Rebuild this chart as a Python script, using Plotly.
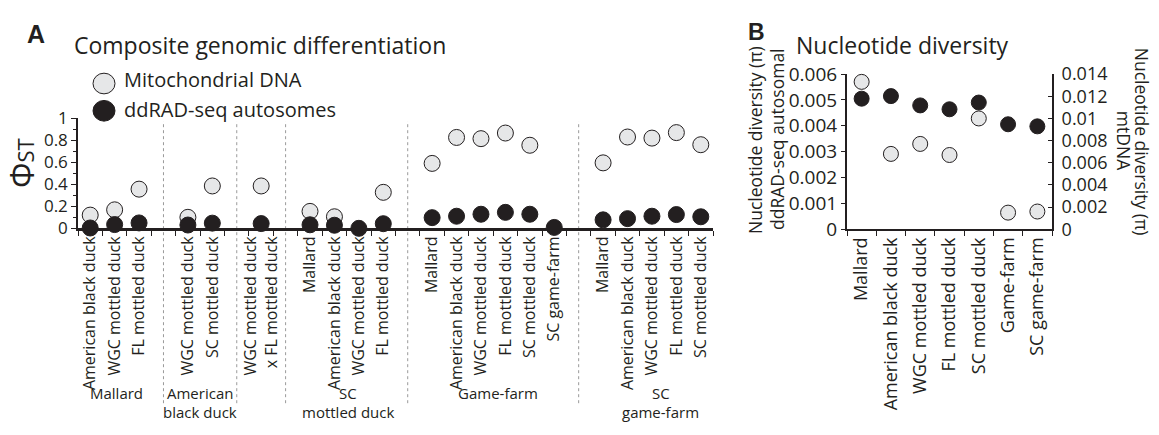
import plotly.graph_objects as go

# ---------------- data ----------------
# Panel A: pairwise PhiST comparisons, grouped by reference population
group_names = ["Mallard", "American<br>black duck", "", "SC<br>mottled duck", "Game-farm", "SC<br>game-farm"]
comparisons = [
    "American black duck", "WGC mottled duck", "FL mottled duck",
    "WGC mottled duck", "SC mottled duck",
    "WGC mottled duck<br>x FL mottled duck",
    "Mallard", "American black duck", "WGC mottled duck", "FL mottled duck",
    "Mallard", "American black duck", "WGC mottled duck", "FL mottled duck", "SC mottled duck", "SC game-farm",
    "Mallard", "American black duck", "WGC mottled duck", "FL mottled duck", "SC mottled duck",
]
comparison_group = [0, 0, 0, 1, 1, 2, 3, 3, 3, 3, 4, 4, 4, 4, 4, 4, 5, 5, 5, 5, 5]
mtdna_phist = [0.12, 0.168, 0.356, 0.10, 0.385, 0.385, 0.154, 0.105, None, 0.327,
               0.59, 0.826, 0.815, 0.866, 0.755, None, 0.595, 0.83, 0.82, 0.87, 0.76]
ddrad_phist = [0.003, 0.034, 0.049, 0.03, 0.047, 0.043, 0.032, 0.028, 0.0, 0.042,
               0.097, 0.11, 0.128, 0.145, 0.128, 0.008, 0.077, 0.088, 0.11, 0.125, 0.105]
phist_ticks = [0, 0.2, 0.4, 0.6, 0.8, 1.0]
phist_ticktext = ["0", "0.2", "0.4", "0.6", "0.8", "1"]

# Panel B: nucleotide diversity per population
populations = ["Mallard", "American black duck", "WGC mottled duck", "FL mottled duck",
               "SC mottled duck", "Game-farm", "SC game-farm"]
autosomal_pi = [0.00505, 0.00515, 0.00479, 0.00464, 0.0049, 0.00406, 0.00398]
mtdna_pi = [0.0133, 0.0068, 0.0077, 0.0067, 0.0100, 0.0015, 0.0016]
auto_ticks = [0, 0.001, 0.002, 0.003, 0.004, 0.005, 0.006]
auto_ticktext = ["0", "0.001", "0.002", "0.003", "0.004", "0.005", "0.006"]
mt_ticks = [0, 0.002, 0.004, 0.006, 0.008, 0.010, 0.012, 0.014]
mt_ticktext = ["0", "0.002", "0.004", "0.006", "0.008", "0.01", "0.012", "0.014"]

# ---------------- layout helpers ----------------
W, H = 1159, 435
def fx(px):
    return px / W
def fy(py):
    return (H - py) / H

FONT = "Open Sans"
INK = "#231f20"
GREY = "#e6e7e8"

# category positions: one empty slot between consecutive groups
posA = [i + g for i, g in enumerate(comparison_group)]
separators = [posA[i] - 1 for i in range(1, len(posA)) if comparison_group[i] != comparison_group[i - 1]]
group_centers = []
for g in range(len(group_names)):
    ps = [p for p, gg in zip(posA, comparison_group) if gg == g]
    group_centers.append(sum(ps) / len(ps))
group_xshift = [2, 0, 0, 1, 5, 9]

posB = list(range(len(populations)))

fig = go.Figure()

mk_grey = dict(color=GREY, line=dict(color=INK, width=1))
mk_black = dict(color=INK, line=dict(color=INK, width=1))

fig.add_trace(go.Scatter(x=posA, y=mtdna_phist, mode="markers", name="Mitochondrial DNA",
                         marker=dict(size=16, **mk_grey), cliponaxis=False,
                         xaxis="x", yaxis="y", showlegend=False))
fig.add_trace(go.Scatter(x=posA, y=ddrad_phist, mode="markers", name="ddRAD-seq autosomes",
                         marker=dict(size=16, **mk_black), cliponaxis=False,
                         xaxis="x", yaxis="y", showlegend=False))
fig.add_trace(go.Scatter(x=posB, y=mtdna_pi, mode="markers", name="mtDNA",
                         marker=dict(size=15, **mk_grey), cliponaxis=False,
                         xaxis="x2", yaxis="y3", showlegend=False))
fig.add_trace(go.Scatter(x=posB, y=autosomal_pi, mode="markers", name="ddRAD autosomal",
                         marker=dict(size=15, **mk_black), cliponaxis=False,
                         xaxis="x2", yaxis="y2", showlegend=False))

common_x = dict(tickangle=-90, ticks="outside", ticklen=1, tickcolor="rgba(0,0,0,0)",
                ticklabelstandoff=-2,
                showline=True, linecolor=INK, showgrid=False, zeroline=False,
                minor=dict(tickmode="linear", tick0=-0.5, dtick=1, ticks="outside",
                           ticklen=5, tickwidth=1.2, tickcolor=INK, showgrid=False))

fig.update_layout(
    width=W, height=H,
    margin=dict(l=0, r=0, t=0, b=0),
    paper_bgcolor="white", plot_bgcolor="rgba(0,0,0,0)",
    font=dict(family=FONT, color=INK),
    xaxis=dict(domain=[fx(78), fx(713)], range=[-0.5, 25.5], anchor="y",
               tickmode="array", tickvals=posA, ticktext=comparisons,
               tickfont=dict(family=FONT, size=16, color=INK), linewidth=2.5, **common_x),
    yaxis=dict(domain=[fy(229), fy(112)], range=[0, 1], anchor="x",
               tickmode="array", tickvals=phist_ticks, ticktext=phist_ticktext,
               ticks="outside", ticklen=5, tickwidth=1.2, tickcolor=INK,
               tickfont=dict(family=FONT, size=17, color=INK),
               showline=True, linecolor=INK, linewidth=1.5, showgrid=False, zeroline=False,
               minor=dict(tickmode="linear", tick0=0, dtick=0.1, ticks="outside", ticklen=3,
                          tickwidth=1, tickcolor=INK, showgrid=False)),
    xaxis2=dict(domain=[fx(847), fx(1052)], range=[-0.5, 6.5], anchor="y2",
                tickmode="array", tickvals=posB, ticktext=populations,
                tickfont=dict(family=FONT, size=18, color=INK), linewidth=2, **common_x),
    yaxis2=dict(domain=[fy(230), fy(65)], range=[0, 0.006], anchor="x2",
                tickmode="array", tickvals=auto_ticks, ticktext=auto_ticktext,
                ticks="outside", ticklen=4, tickwidth=1.2, tickcolor=INK,
                tickfont=dict(family=FONT, size=19, color=INK),
                showline=True, linecolor=INK, linewidth=2, showgrid=False, zeroline=False),
    yaxis3=dict(domain=[fy(230), fy(65)], range=[0, 0.014], anchor="x2", overlaying="y2", side="right",
                tickmode="array", tickvals=mt_ticks, ticktext=mt_ticktext,
                ticks="inside", ticklen=4, tickwidth=1.2, tickcolor=INK, ticklabelstandoff=4,
                tickfont=dict(family=FONT, size=18, color=INK),
                showline=True, linecolor=INK, linewidth=2, showgrid=False, zeroline=False),
)

shapes = []
for s in separators:
    shapes.append(dict(type="line", xref="x", yref="paper", x0=s, x1=s, y0=fy(415), y1=fy(115),
                       line=dict(color="#9a9a9a", width=1, dash="dot"), layer="below"))
# legend glyphs
for cy, fill in [(75, GREY), (104, INK)]:
    shapes.append(dict(type="circle", xref="paper", yref="paper",
                       x0=fx(93), x1=fx(115), y0=fy(cy + 11), y1=fy(cy - 11),
                       fillcolor=fill, line=dict(color=INK, width=1)))
fig.update_layout(shapes=shapes)

ann = []
def txt(x, y, text, size, xanchor="left", yanchor="middle", xref="paper", yref="paper",
        angle=0, family=FONT, align="center", xshift=0):
    ann.append(dict(x=x, y=y, xref=xref, yref=yref, text=text, showarrow=False,
                    xanchor=xanchor, yanchor=yanchor, textangle=angle, align=align,
                    xshift=xshift, font=dict(family=family, size=size, color=INK)))

txt(fx(36), fy(22.5), "<b>A</b>", 25, xanchor="center", family="Liberation Sans")
txt(fx(756), fy(20), "<b>B</b>", 23, xanchor="center", family="Liberation Sans")
txt(fx(72), fy(34), "Composite genomic differentiation", 23)
txt(fx(794), fy(34), "Nucleotide diversity", 23)
txt(fx(122), fy(71), "Mitochondrial DNA", 20)
txt(fx(122), fy(102.5), "ddRAD-seq autosomes", 20)
txt(fx(22), fy(159.5), "Φ<span style='font-size:22px'>ST</span>", 32, xanchor="center", angle=-90)
txt(fx(755), fy(135), "Nucleotide diversity (π)", 17.5, xanchor="center", angle=-90)
txt(fx(777), fy(135), "ddRAD-seq autosomal", 17.5, xanchor="center", angle=-90)
txt(fx(1142), fy(137), "Nucleotide diversity (π)", 17.5, xanchor="center", angle=90)
txt(fx(1124), fy(136), "mtDNA", 17.5, xanchor="center", angle=90)
# group labels, one annotation per text line
for name, cx, sh in zip(group_names, group_centers, group_xshift):
    for k, line in enumerate(name.split("<br>") if name else []):
        txt(cx, fy(404 + 20.5 * k), line, 15, xanchor="center", yanchor="middle", xref="x", xshift=sh)
fig.update_layout(annotations=ann)

fig.write_html("out.html", post_script="document.body.style.margin='0px';",
               config={"displayModeBar": False})
